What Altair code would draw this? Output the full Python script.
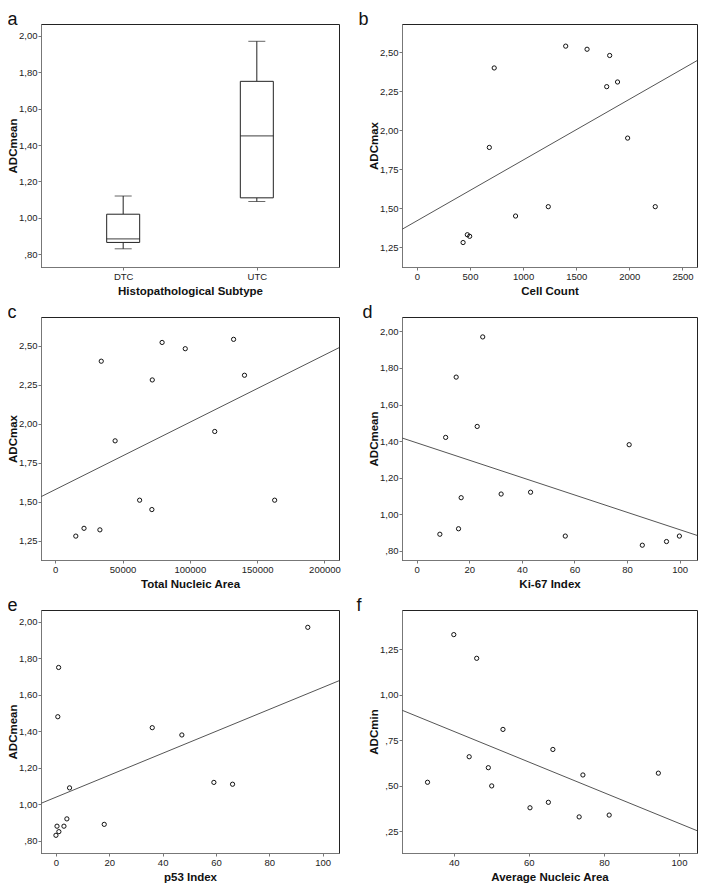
import altair as alt
import pandas as pd

FONT = "Liberation Sans"

# ---------- panel a: box plot statistics (ADCmean by subtype) ----------
subtype = ["DTC", "UTC"]
box_low = [0.83, 1.09]
box_q1 = [0.865, 1.11]
box_median = [0.885, 1.45]
box_q3 = [1.02, 1.75]
box_high = [1.12, 1.97]

# ---------- panel b: Cell Count vs ADCmax ----------
cell_count = [435, 475, 497, 682, 728, 929, 1237, 1401, 1602, 1787, 1815, 1889, 1984, 2244]
adcmax_b = [1.28, 1.33, 1.32, 1.89, 2.40, 1.45, 1.51, 2.54, 2.52, 2.28, 2.48, 2.31, 1.95, 1.51]

# ---------- panel c: Total Nucleic Area vs ADCmax ----------
total_nucleic_area = [15300, 21400, 33200, 34200, 44500, 62700, 71800, 72100, 79400,
                      96600, 118500, 132500, 140600, 163000]
adcmax_c = [1.28, 1.33, 1.32, 2.40, 1.89, 1.51, 1.45, 2.28, 2.52, 2.48, 1.95, 2.54, 2.31, 1.51]

# ---------- panel d: Ki-67 Index vs ADCmean ----------
ki67 = [8.8, 11.0, 15.0, 15.9, 16.9, 23.0, 25.1, 32.1, 43.3, 56.5, 80.8, 85.8, 95.0, 99.9]
adcmean_d = [0.89, 1.42, 1.75, 0.92, 1.09, 1.48, 1.97, 1.11, 1.12, 0.88, 1.38, 0.83, 0.85, 0.88]

# ---------- panel e: p53 Index vs ADCmean ----------
p53 = [0.0, 0.4, 1.1, 3.0, 4.1, 5.1, 0.7, 1.0, 18.1, 36.1, 47.2, 59.2, 66.2, 94.4]
adcmean_e = [0.83, 0.88, 0.85, 0.88, 0.92, 1.09, 1.48, 1.75, 0.89, 1.42, 1.38, 1.12, 1.11, 1.97]

# ---------- panel f: Average Nucleic Area vs ADCmin ----------
avg_nucleic_area = [33.0, 40.0, 44.1, 46.1, 49.2, 50.1, 53.1, 60.3, 65.2, 66.4, 73.4, 74.4, 81.4, 94.5]
adcmin = [0.52, 1.33, 0.66, 1.20, 0.60, 0.50, 0.81, 0.38, 0.41, 0.70, 0.33, 0.56, 0.34, 0.57]

W_LEFT = 298
W_RIGHT = 295
H = 243

YLABEL = ("replace(datum.value < 1 ? slice(format(datum.value, '.2f'), 1) "
          ": format(datum.value, '.2f'), '.', ',')")


def panel_title(letter, dx=0):
    return alt.TitleParams(text=letter, anchor="start", frame="bounds", fontSize=18,
                           fontWeight="normal", font=FONT, color="#111", offset=-5, dx=dx)


def y_axis(title, ticks):
    return alt.Axis(title=title, values=ticks, labelExpr=YLABEL)


# ---------- panel a ----------
box_df = pd.DataFrame({"subtype": subtype, "low": box_low, "q1": box_q1,
                       "median": box_median, "q3": box_q3, "high": box_high})
ya_scale = alt.Scale(domain=[0.73, 2.065], nice=False, zero=False)
ya_axis = y_axis("ADCmean", [0.8, 1.0, 1.2, 1.4, 1.6, 1.8, 2.0])
xa = alt.X("subtype:N", scale=alt.Scale(type="point", padding=0.615),
           axis=alt.Axis(title="Histopathological Subtype", labelAngle=0))
base_a = alt.Chart(box_df)
whisk_lo = base_a.mark_rule(color="#222", strokeWidth=1).encode(
    x=xa, y=alt.Y("low:Q", scale=ya_scale, axis=ya_axis), y2="q1:Q")
whisk_hi = base_a.mark_rule(color="#222", strokeWidth=1).encode(
    x=xa, y=alt.Y("q3:Q", scale=ya_scale, axis=ya_axis), y2="high:Q")
box = base_a.mark_bar(size=33, fill="white", stroke="#222", strokeWidth=1).encode(
    x=xa, y=alt.Y("q1:Q", scale=ya_scale, axis=ya_axis), y2="q3:Q")
cap_lo = base_a.mark_tick(size=17, thickness=1, color="#222").encode(
    x=xa, y=alt.Y("low:Q", scale=ya_scale, axis=ya_axis))
cap_hi = base_a.mark_tick(size=17, thickness=1, color="#222").encode(
    x=xa, y=alt.Y("high:Q", scale=ya_scale, axis=ya_axis))
med = base_a.mark_tick(size=33, thickness=1.2, color="#222").encode(
    x=xa, y=alt.Y("median:Q", scale=ya_scale, axis=ya_axis))
panel_a = alt.layer(whisk_lo, whisk_hi, box, cap_lo, cap_hi, med).properties(
    width=W_LEFT, height=H, title=panel_title("a"))


def scatter(xvals, yvals, xtitle, ytitle, xdom, ydom, xticks, yticks, letter, width, dx=0):
    df = pd.DataFrame({"xv": xvals, "yv": yvals})
    xenc = alt.X("xv:Q", scale=alt.Scale(domain=xdom, nice=False, zero=False),
                 axis=alt.Axis(title=xtitle, values=xticks, format="d"))
    yenc = alt.Y("yv:Q", scale=alt.Scale(domain=ydom, nice=False, zero=False),
                 axis=y_axis(ytitle, yticks))
    base = alt.Chart(df)
    fit = base.transform_regression("xv", "yv", extent=xdom).mark_line(
        color="#555", strokeWidth=1, clip=True).encode(x=xenc, y=yenc)
    pts = base.mark_point(shape="circle", size=18, filled=False, color="#111",
                          strokeWidth=1, opacity=1).encode(x=xenc, y=yenc)
    return alt.layer(fit, pts).properties(width=width, height=H,
                                          title=panel_title(letter, dx))


adc_ticks_25 = [1.25, 1.5, 1.75, 2.0, 2.25, 2.5]
adc_ticks_20 = [0.8, 1.0, 1.2, 1.4, 1.6, 1.8, 2.0]

panel_b = scatter(cell_count, adcmax_b, "Cell Count", "ADCmax", [-140, 2637], [1.123, 2.682],
                  [0, 500, 1000, 1500, 2000, 2500], adc_ticks_25, "b", W_RIGHT, -10)
panel_c = scatter(total_nucleic_area, adcmax_c, "Total Nucleic Area", "ADCmax",
                  [-10550, 210800], [1.127, 2.683],
                  [0, 50000, 100000, 150000, 200000], adc_ticks_25, "c", W_LEFT)
panel_d = scatter(ki67, adcmean_d, "Ki-67 Index", "ADCmean", [-5.6, 106.6], [0.749, 2.079],
                  [0, 20, 40, 60, 80, 100], adc_ticks_20, "d", W_RIGHT, -6)
panel_e = scatter(p53, adcmean_e, "p53 Index", "ADCmean", [-5.6, 106.1], [0.733, 2.065],
                  [0, 20, 40, 60, 80, 100], adc_ticks_20, "e", W_LEFT)
panel_f = scatter(avg_nucleic_area, adcmin, "Average Nucleic Area", "ADCmin", [26.2, 104.8],
                  [0.132, 1.465], [40, 60, 80, 100], [0.25, 0.5, 0.75, 1.0, 1.25], "f",
                  W_RIGHT, -12)

chart = alt.concat(panel_a, panel_b, panel_c, panel_d, panel_e, panel_f,
                   columns=2, spacing={"row": 50, "column": 63}, bounds="flush").properties(
    padding={"left": -1, "top": 2, "right": 0, "bottom": 0}
).configure_view(
    stroke="#222", strokeWidth=1
).configure_axis(
    grid=False,
    labelFont=FONT, labelFontSize=9.5, labelColor="#222", labelPadding=1,
    titleFont=FONT, titleFontSize=11.5, titleFontWeight="bold", titleColor="#111",
    tickSize=3, tickColor="#777", domainColor="#777", domainWidth=1,
).configure_axisX(titlePadding=5).configure_axisY(titlePadding=0)

chart.save("out.html", embed_options={"renderer": "svg", "actions": False})
